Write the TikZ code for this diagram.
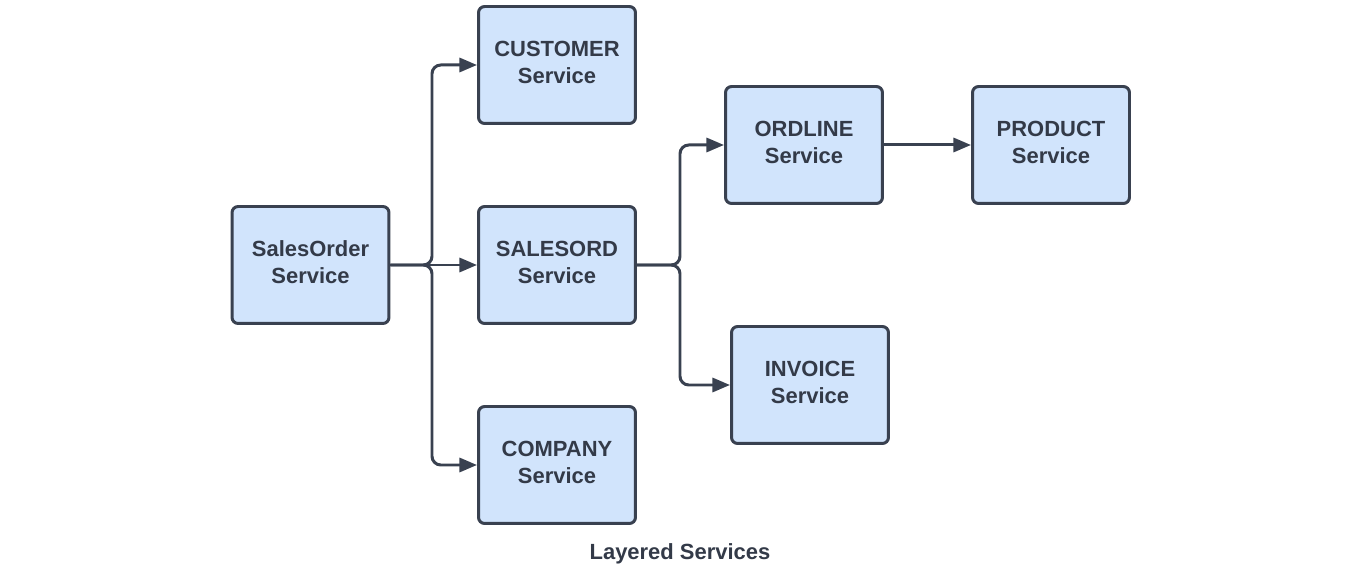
\documentclass[tikz,border=0pt]{standalone}
\usepackage{fontspec}
\setmainfont{Liberation Sans}
\usetikzlibrary{arrows.meta}
\usepackage{xcolor}
\definecolor{boxfill}{HTML}{D1E4FC}
\definecolor{boxline}{HTML}{394150}
\definecolor{txt}{HTML}{333A48}

\begin{document}
\begin{tikzpicture}[x=0.02cm, y=-0.02cm]
		\tikzset{service/.style = {shape=rectangle, draw=boxline, fill=boxfill, line width=1.7pt, rounded corners=3.5pt, minimum width=3.14cm, minimum height=2.34cm, align=center, text depth=3.4pt, text=txt, font=\fontsize{12.5}{15.3}\selectfont\bfseries}}
		\tikzset{link/.style = {draw=boxline, line width=1.7pt, rounded corners=5pt, -{Triangle[length=10pt,width=8pt]}}}
		\useasboundingbox (0,0) rectangle (1360,573);
		\node[service] (salesorder) at (310.5, 265) {SalesOrder\\Service};
		\node[service] (customer) at (557, 65) {CUSTOMER\\Service};
		\node[service] (salesord) at (557, 265) {SALESORD\\Service};
		\node[service] (company) at (557, 465) {COMPANY\\Service};
		\node[service] (ordline) at (804, 145) {ORDLINE\\Service};
		\node[service] (product) at (1051, 145) {PRODUCT\\Service};
		\node[service] (invoice) at (810, 385) {INVOICE\\Service};
		\node[text=txt, font=\fontsize{12.5}{15}\selectfont\bfseries] (caption) at (680, 554) {Layered Services};
		%branch points
		\coordinate (split1) at (432, 265);
		\coordinate (split2) at (680, 265);
		%edges
		\draw[link] (salesorder.east) -- (split1) |- (customer.west);
		\draw[link] (salesorder.east) -- (salesord.west);
		\draw[link] (salesorder.east) -- (split1) |- (company.west);
		\draw[link] (salesord.east) -- (split2) |- (ordline.west);
		\draw[link] (salesord.east) -- (split2) |- (invoice.west);
		\draw[link] (ordline) -- (product);
\end{tikzpicture}
\end{document}
